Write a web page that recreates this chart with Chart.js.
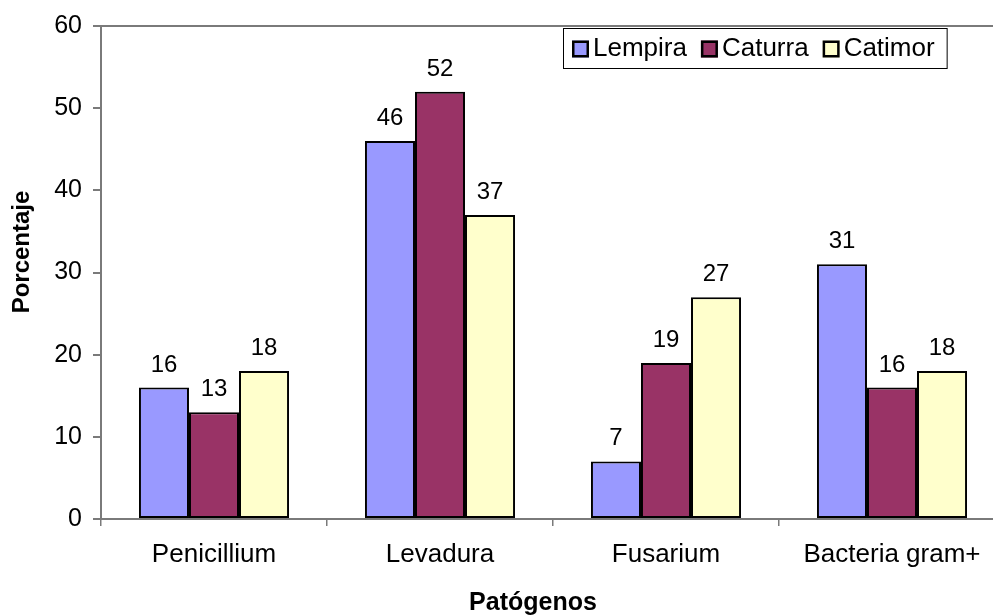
<!DOCTYPE html>
<html><head><meta charset="utf-8">
<script src="https://cdn.jsdelivr.net/npm/chart.js@4/dist/chart.umd.min.js"></script>
<style>html,body{margin:0;padding:0;background:#fff;overflow:hidden;width:993px;height:615px}</style>
</head><body>
<canvas id="c" width="1010" height="615" style="display:block"></canvas>
<script>
const categories = ['Penicillium', 'Levadura', 'Fusarium', 'Bacteria gram+'];
const seriesNames = ['Lempira', 'Caturra', 'Catimor'];
const lempira = [16, 46, 7, 31];
const caturra = [13, 52, 19, 16];
const catimor = [18, 37, 27, 18];
const yTicks = [0, 10, 20, 30, 40, 50, 60];
const xTitle = 'Patógenos';
const yTitle = 'Porcentaje';

const FONT = "'Liberation Sans', Arial, sans-serif";
const AXIS = '#7a7a7a';
Chart.defaults.font.family = FONT;
Chart.defaults.color = '#000';

const extras = {
  id: 'extras',
  afterDatasetsDraw(chart) {
    const ctx = chart.ctx;
    ctx.save();
    ctx.fillStyle = '#000';
    ctx.font = '24px ' + FONT;
    ctx.textAlign = 'center';
    ctx.textBaseline = 'alphabetic';
    chart.data.datasets.forEach((ds, i) => {
      const meta = chart.getDatasetMeta(i);
      meta.data.forEach((bar, j) => {
        ctx.fillText(String(ds.data[j]), bar.x, bar.y - 16);
      });
    });
    ctx.restore();
  },
  afterDraw(chart) {
    const ctx = chart.ctx;
    ctx.save();
    // axis titles
    ctx.fillStyle = '#000';
    ctx.font = 'bold 25px ' + FONT;
    ctx.textAlign = 'center';
    ctx.textBaseline = 'middle';
    ctx.fillText(xTitle, 533, 603);
    ctx.save();
    ctx.translate(22, 252);
    ctx.rotate(-Math.PI / 2);
    ctx.font = 'bold 24px ' + FONT;
    ctx.fillText(yTitle, 0, 0);
    ctx.restore();
    // legend
    ctx.font = '26px ' + FONT;
    const boxL = 563, boxT = 28, boxH = 40, sq = 17, padL = 9, padR = 12, gapSq = 4, gapItem = 14;
    const widths = chart.data.datasets.map(d => ctx.measureText(d.label).width);
    let total = padL + padR;
    widths.forEach((w, i) => { total += sq + gapSq + w + (i < widths.length - 1 ? gapItem : 0); });
    ctx.fillStyle = '#fff';
    ctx.fillRect(boxL, boxT, total, boxH);
    ctx.strokeStyle = '#000';
    ctx.lineWidth = 1;
    ctx.strokeRect(boxL + 0.5, boxT + 0.5, total, boxH);
    let x = boxL + padL;
    const cy = boxT + boxH / 2 + 1;
    chart.data.datasets.forEach((d, i) => {
      ctx.fillStyle = d.backgroundColor;
      ctx.fillRect(x, cy - sq / 2, sq, sq);
      ctx.lineWidth = 2.5;
      ctx.strokeStyle = '#000';
      ctx.strokeRect(x + 1.25, cy - sq / 2 + 1.25, sq - 2.5, sq - 2.5);
      x += sq + gapSq;
      ctx.fillStyle = '#000';
      ctx.textAlign = 'left';
      ctx.textBaseline = 'middle';
      ctx.fillText(d.label, x, cy);
      x += widths[i] + gapItem;
    });
    ctx.restore();
  }
};

new Chart(document.getElementById('c'), {
  type: 'bar',
  data: {
    labels: categories,
    datasets: [
      { label: seriesNames[0], data: lempira, backgroundColor: '#9999FF' },
      { label: seriesNames[1], data: caturra, backgroundColor: '#993366' },
      { label: seriesNames[2], data: catimor, backgroundColor: '#FFFFCC' }
    ].map(d => Object.assign(d, { borderColor: '#000', borderWidth: 2, borderSkipped: false, categoryPercentage: 0.664, barPercentage: 1 }))
  },
  options: {
    responsive: false,
    animation: false,
    layout: { padding: { left: 0, right: 5, top: 22, bottom: 0 } },
    plugins: { legend: { display: false }, tooltip: { enabled: false } },
    scales: {
      x: {
        afterFit(s) { s.height = 96; },
        grid: { offset: true, drawOnChartArea: false, color: AXIS, tickColor: AXIS, tickLength: 7, lineWidth: 1.5 },
        border: { display: true, color: AXIS, width: 2 },
        ticks: { font: { size: 26 }, padding: 13, color: '#000', maxRotation: 0 }
      },
      y: {
        min: 0, max: 60,
        afterFit(s) { s.width = 101; },
        afterBuildTicks(s) { s.ticks = yTicks.map(v => ({ value: v })); },
        grid: {
          color: c => (c.tick && c.tick.value === 60) ? AXIS : 'rgba(0,0,0,0)',
          tickColor: AXIS, tickLength: 8, lineWidth: 2
        },
        border: { display: true, color: AXIS, width: 2 },
        ticks: { font: { size: 25 }, padding: 11, color: '#000' }
      }
    }
  },
  plugins: [extras]
});
</script>
</body></html>
